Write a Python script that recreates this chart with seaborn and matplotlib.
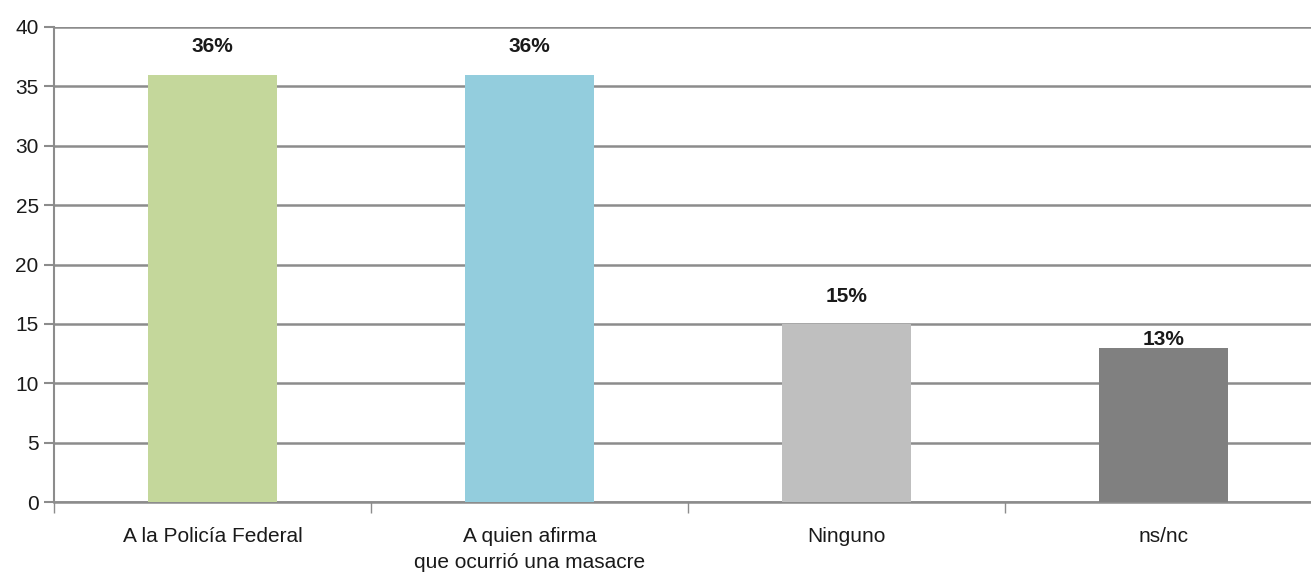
import matplotlib
matplotlib.use("Agg")
import matplotlib.pyplot as plt
import seaborn as sns
import pandas as pd
from matplotlib import font_manager

categories = ["A la Policía Federal", "A quien afirma\nque ocurrió una masacre", "Ninguno", "ns/nc"]
values = [36, 36, 15, 13]
value_labels = ["36%", "36%", "15%", "13%"]
colors = ["#c4d79b", "#93cddd", "#bfbfbf", "#808080"]
yticks = [0, 5, 10, 15, 20, 25, 30, 35, 40]

sns.set_theme(style="white")
names = {f.name for f in font_manager.fontManager.ttflist}
fam = "Liberation Sans Narrow" if "Liberation Sans Narrow" in names else "Liberation Sans"
plt.rcParams["font.family"] = [fam, "DejaVu Sans"]

df = pd.DataFrame({"cat": categories, "val": values})

fig = plt.figure(figsize=(13.11, 5.79), dpi=100)
ax = fig.add_axes([54/1311, 1-502/579, 1268/1311, 475/579])

sns.barplot(data=df, x="cat", y="val", hue="cat", palette=colors, width=0.41,
            legend=False, ax=ax, saturation=1, zorder=3, linewidth=0)

ax.set_ylim(0, 40)
ax.set_xlim(-0.5, 3.5)
ax.set_yticks(yticks)
ax.set_yticklabels([str(t) for t in yticks], fontsize=15, color="#1a1a1a")
ax.yaxis.grid(True, color="#8c8c8c", linewidth=1.8, zorder=0)
ax.set_axisbelow(True)
ax.set_xlabel("")
ax.set_ylabel("")

ax.set_xticks([-0.5, 0.5, 1.5, 2.5, 3.5])
ax.set_xticklabels([])
ax.tick_params(axis="x", which="major", length=8, width=1, color="#8c8c8c", direction="out", bottom=True)
ax.set_xticks(range(len(categories)), minor=True)
ax.set_xticklabels(categories, minor=True, fontsize=15, color="#1a1a1a", linespacing=1.45)
ax.tick_params(axis="x", which="minor", length=0, pad=18)
ax.tick_params(axis="y", length=7, width=1.5, color="#8c8c8c", direction="out", left=True, pad=4)

for s in ["top", "right"]:
    ax.spines[s].set_visible(False)
ax.spines["left"].set_color("#8c8c8c")
ax.spines["left"].set_linewidth(1.5)
ax.spines["bottom"].set_color("#8c8c8c")
ax.spines["bottom"].set_linewidth(1.8)

label_offsets = [13, 13, 13, 6]
label_va = ["bottom", "bottom", "bottom", "center"]
for i, (v, lab) in enumerate(zip(values, value_labels)):
    ax.annotate(lab, (i, v), xytext=(0, label_offsets[i]), textcoords="offset points",
                ha="center", va=label_va[i],
                fontsize=15, fontweight="bold", color="#1a1a1a", zorder=5)

fig.savefig("out.png", dpi=100)
